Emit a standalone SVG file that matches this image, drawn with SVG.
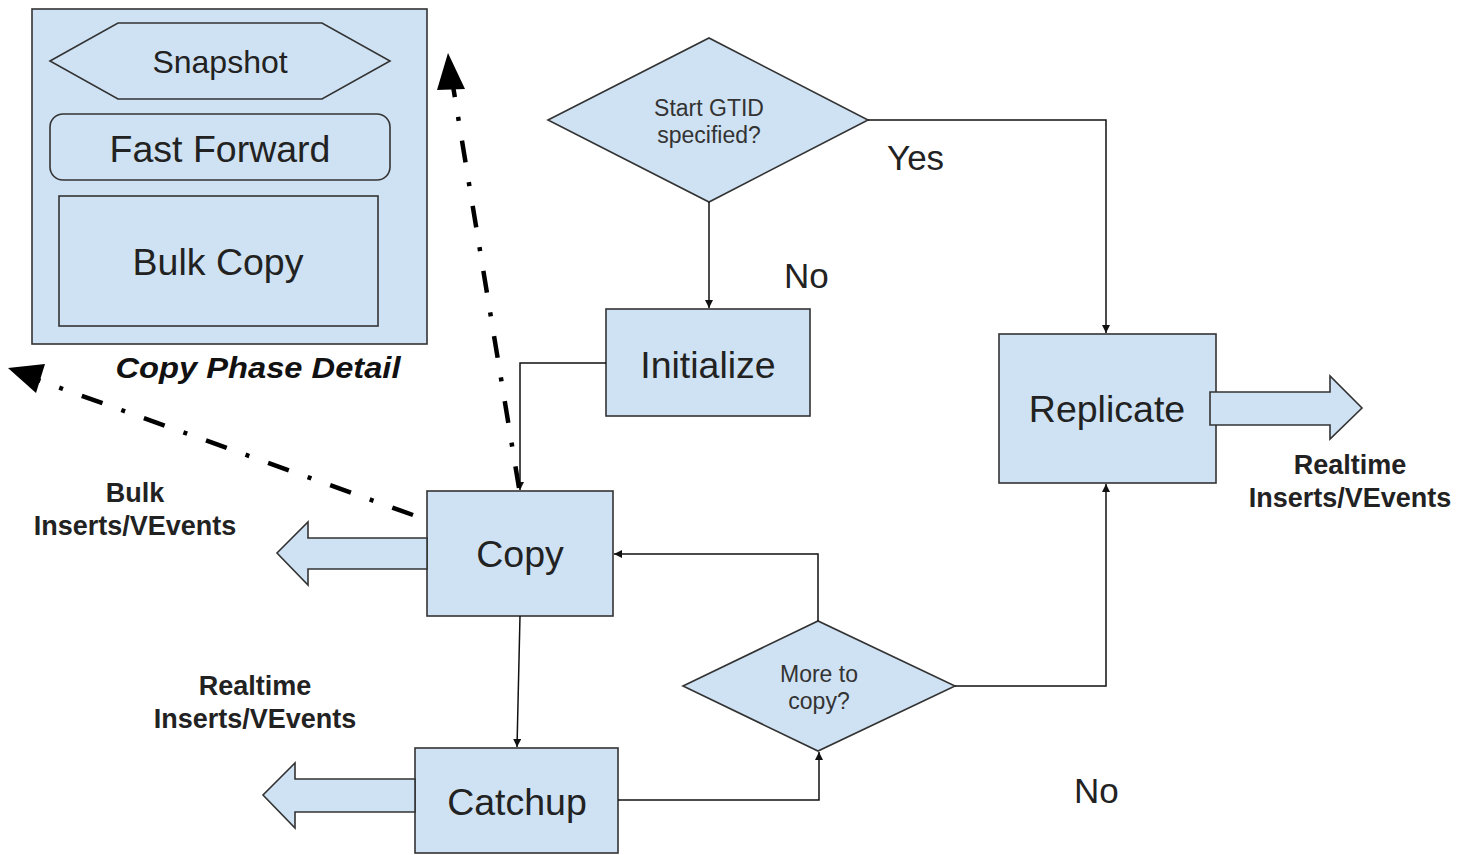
<svg xmlns="http://www.w3.org/2000/svg" width="1473" height="855" viewBox="0 0 1473 855">
<defs>
<style>
.box{fill:#cfe2f3;stroke:#333;stroke-width:1.6}
.big{font-family:"Liberation Sans",Arial,sans-serif;font-size:37.5px;fill:#222;text-anchor:middle}
.dia{font-family:"Liberation Sans",Arial,sans-serif;font-size:23px;fill:#333;text-anchor:middle}
.lbl{font-family:"Liberation Sans",Arial,sans-serif;font-size:27px;font-weight:bold;fill:#222;text-anchor:middle}
.yn{font-family:"Liberation Sans",Arial,sans-serif;font-size:35px;fill:#222}
.conn{fill:none;stroke:#111;stroke-width:1.5}
.dd{fill:none;stroke:#000;stroke-width:4.5;stroke-dasharray:22 20 4 20}
</style>
<marker id="ah" viewBox="0 0 10 10" refX="10" refY="5" markerWidth="8" markerHeight="8" markerUnits="userSpaceOnUse" orient="auto">
<path d="M0,0 L10,5 L0,10 z" fill="#111"/>
</marker>
</defs>
<rect width="1473" height="855" fill="#fff"/>

<g id="copy-phase-detail">
<rect class="box" x="32" y="9" width="395" height="335"/>
<text x="258" y="378" font-family="'Liberation Sans',Arial,sans-serif" font-size="30" font-weight="bold" font-style="italic" fill="#111" text-anchor="middle" textLength="285" lengthAdjust="spacingAndGlyphs">Copy Phase Detail</text>
</g>
<g id="snapshot">
<polygon class="box" points="50,61 118,23 322,23 390,61 322,99 118,99"/>
<text class="big" x="220" y="73" style="font-size:32px">Snapshot</text>
</g>
<g id="fast-forward">
<rect class="box" x="50" y="114" width="340" height="66" rx="13"/>
<text class="big" x="220" y="162">Fast Forward</text>
</g>
<g id="bulk-copy">
<rect class="box" x="59" y="196" width="319" height="130"/>
<text class="big" x="218" y="275">Bulk Copy</text>
</g>

<g id="start-gtid">
<polygon class="box" points="548,120 709,38 868,120 709,202"/>
<text class="dia" x="709" y="116">Start GTID</text>
<text class="dia" x="709" y="143">specified?</text>
</g>
<g id="initialize">
<rect class="box" x="606" y="309" width="204" height="107"/>
<text class="big" x="708" y="378">Initialize</text>
</g>
<g id="replicate">
<rect class="box" x="999" y="334" width="217" height="149"/>
<text class="big" x="1107" y="422">Replicate</text>
</g>
<g id="copy">
<rect class="box" x="427" y="491" width="186" height="125"/>
<text class="big" x="520" y="567">Copy</text>
</g>
<g id="more-to-copy">
<polygon class="box" points="683,686 818,621 955,686 818,751"/>
<text class="dia" x="819" y="682">More to</text>
<text class="dia" x="819" y="709">copy?</text>
</g>
<g id="catchup">
<rect class="box" x="415" y="748" width="203" height="105"/>
<text class="big" x="517" y="815">Catchup</text>
</g>

<g id="block-arrows">
<polygon class="box" points="1210,392 1330,392 1330,376 1362,408 1330,439 1330,425 1210,425"/>
<polygon class="box" points="427,538 308,538 308,522 277,553 308,585 308,569 427,569"/>
<polygon class="box" points="415,779 295,779 295,763 263,795 295,828 295,812 415,812"/>
</g>

<g id="labels">
<text class="yn" x="887" y="170">Yes</text>
<text class="yn" x="784" y="288">No</text>
<text class="yn" x="1074" y="803">No</text>
<text class="lbl" x="1350" y="474">Realtime</text>
<text class="lbl" x="1350" y="507">Inserts/VEvents</text>
<text class="lbl" x="135" y="502">Bulk</text>
<text class="lbl" x="135" y="535">Inserts/VEvents</text>
<text class="lbl" x="255" y="695">Realtime</text>
<text class="lbl" x="255" y="728">Inserts/VEvents</text>
</g>

<g id="connectors">
<polyline class="conn" points="868,120 1106,120 1106,333" marker-end="url(#ah)"/>
<polyline class="conn" points="709,202 709,308" marker-end="url(#ah)"/>
<polyline class="conn" points="606,363 520,363 520,490" marker-end="url(#ah)"/>
<polyline class="conn" points="520,616 517,747" marker-end="url(#ah)"/>
<polyline class="conn" points="618,800 819,800 819,752" marker-end="url(#ah)"/>
<polyline class="conn" points="818,621 818,554 614,554" marker-end="url(#ah)"/>
<polyline class="conn" points="955,686 1106,686 1106,484" marker-end="url(#ah)"/>
<line class="dd" x1="519" y1="488" x2="453" y2="86"/>
<polygon points="448,53 465,89 437,90" fill="#000"/>
<line class="dd" x1="413" y1="515" x2="38" y2="380"/>
<polygon points="8,368 45,364 36,393" fill="#000"/>
</g>
</svg>
